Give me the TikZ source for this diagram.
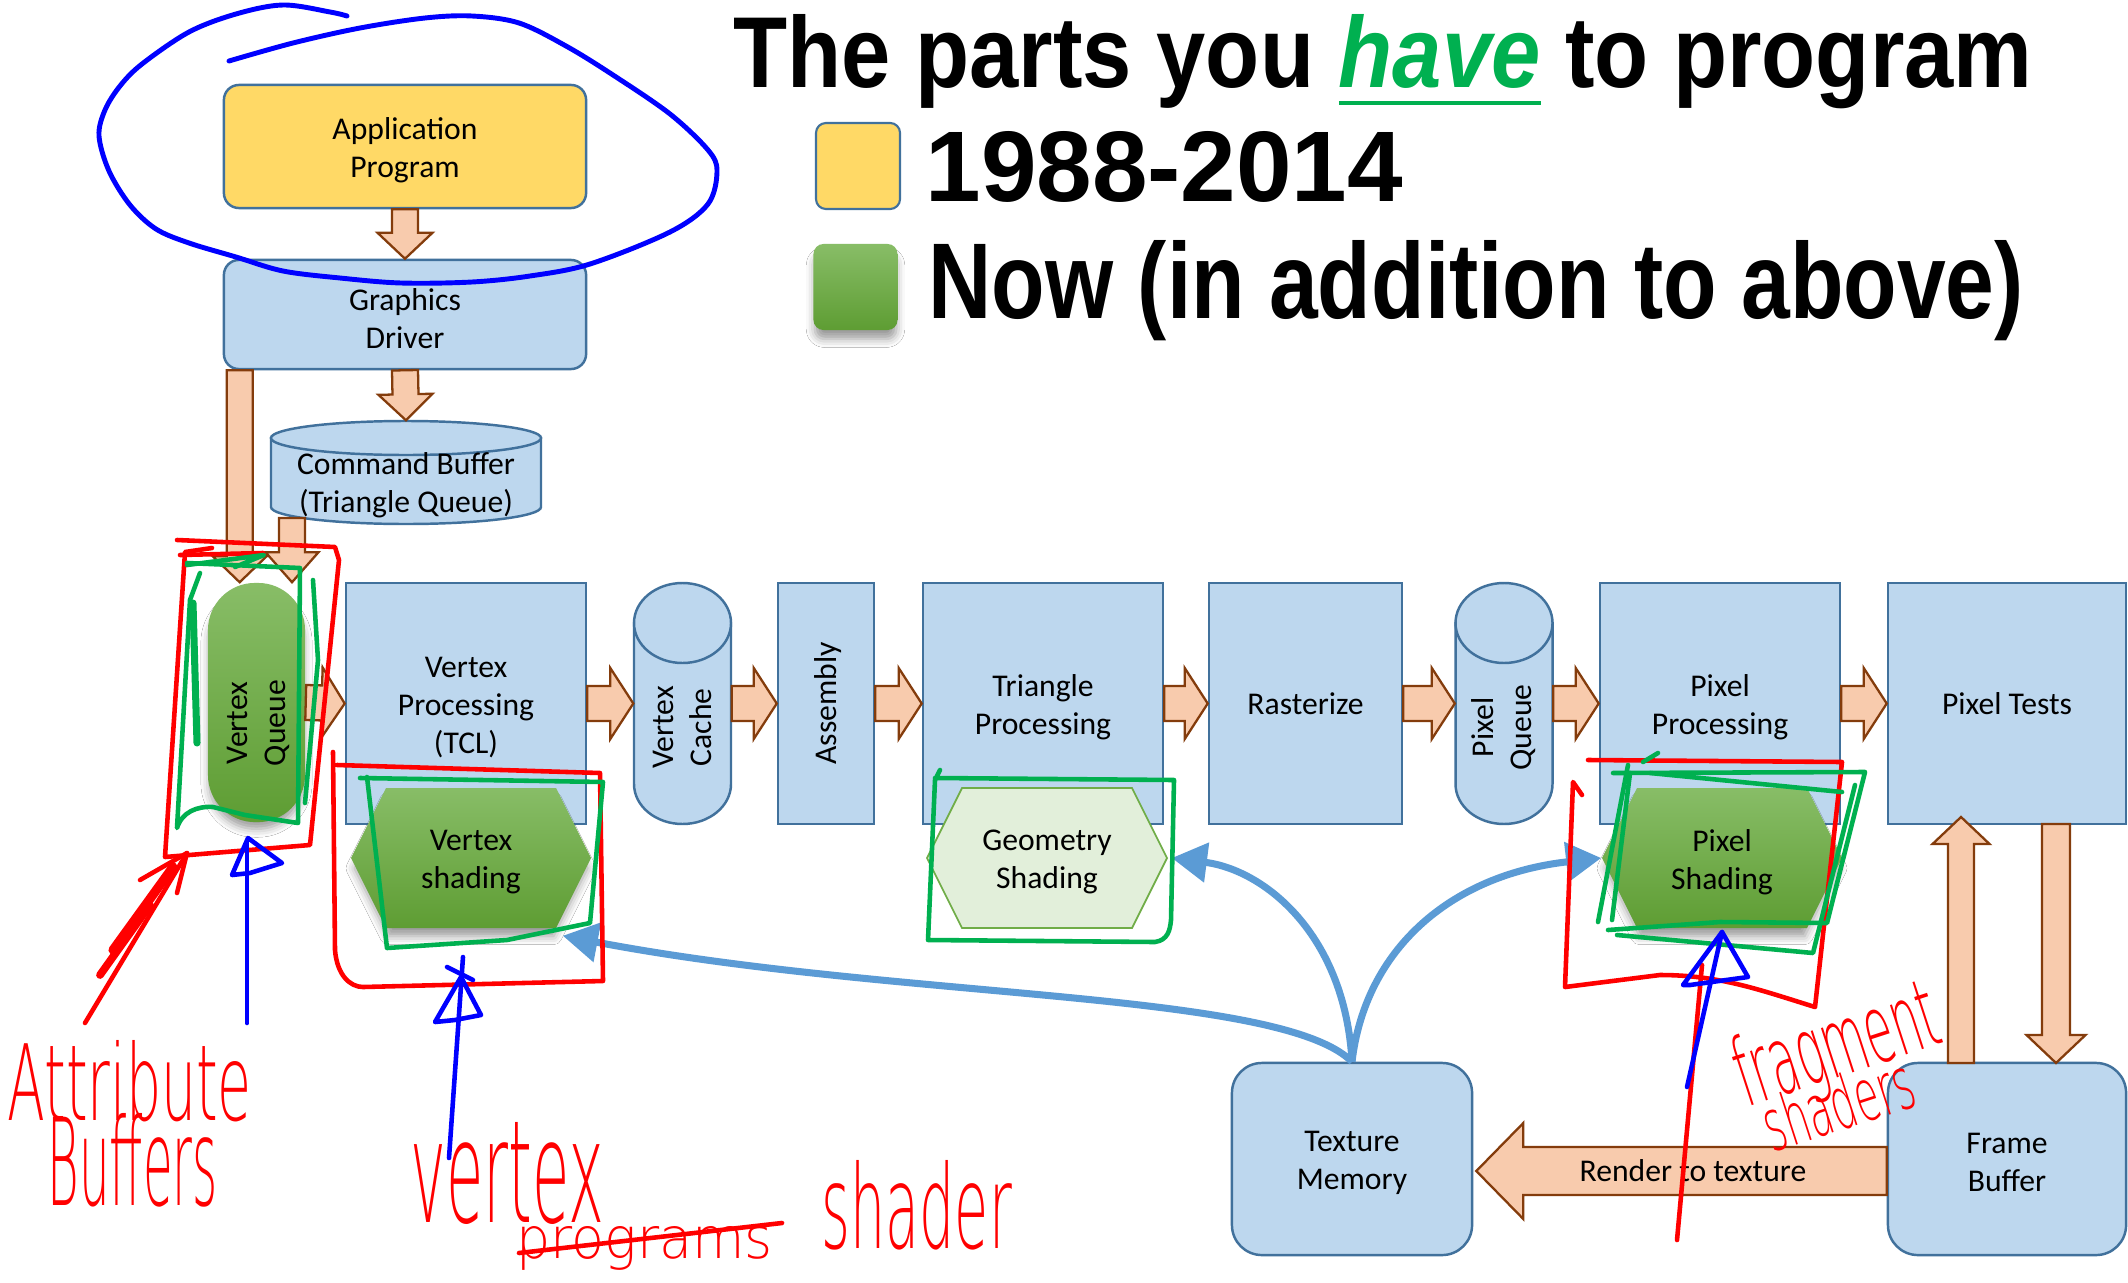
\documentclass[tikz,border=0pt]{standalone}
\usepackage{fontspec}
\setmainfont{Carlito}
\newfontfamily\titlefont{Liberation Sans}
\newfontfamily\handfont{DejaVu Sans ExtraLight}
\usetikzlibrary{calc,arrows.meta,shadows.blur}

\definecolor{boxfill}{HTML}{BDD7EE}
\definecolor{boxline}{HTML}{41719C}
\definecolor{appyellow}{HTML}{FFD966}
\definecolor{peach}{HTML}{F8CBAD}
\definecolor{arrowbrown}{HTML}{843C0C}
\definecolor{lgfill}{HTML}{E2EFDA}
\definecolor{lgline}{HTML}{70AD47}
\definecolor{gtop}{HTML}{88BD67}
\definecolor{gbot}{HTML}{5E9D33}
\definecolor{texblue}{HTML}{5B9BD5}
\definecolor{penred}{HTML}{FF0000}
\definecolor{pengreen}{HTML}{00B050}
\definecolor{penblue}{HTML}{0000FF}

\tikzset{
  boxtext/.style={font=\fontsize{9}{10.8}\selectfont, align=center, text=black},
  multitext/.style={boxtext, yshift=-1.1pt},
  stagebox/.style={draw=boxline, fill=boxfill, line width=0.7pt, inner sep=0pt},
  roundbox/.style={stagebox, rounded corners=0.15cm},
  cylstyle/.style={draw=boxline, fill=boxfill, line width=0.7pt},
  blockarrow/.style={draw=arrowbrown, fill=peach, line width=0.65pt, line join=miter},
  greenfill/.style={top color=gtop, bottom color=gbot, draw=none},
  gshadow/.style={blur shadow={shadow xshift=0pt, shadow yshift=-3pt, shadow scale=0.97, shadow blur radius=2.5pt, shadow opacity=40}},
  lightgreen/.style={fill=lgfill, draw=lgline, line width=0.5pt},
  texarrow/.style={draw=texblue, line width=2pt, -{Triangle[length=10pt,width=11pt]}},
  pen/.style={line width=1.3pt, line cap=round, line join=round},
  redpen/.style={pen, draw=penred},
  greenpen/.style={pen, draw=pengreen},
  bluepen/.style={pen, draw=penblue},
  hand/.style={inner sep=0pt, text=penred},
  legendtext/.style={inner sep=0pt, anchor=base west},
}

% hollow block arrow from #1 to #2: shaft half width, head half width, head length
\newcommand\blockarrow[5]{%
  \coordinate (ba-h) at ($(#2)!#5!(#1)$);
  \draw[blockarrow] ($(#1)!#3!90:(#2)$) -- ($(ba-h)!#3!90:(#2)$) -- ($(ba-h)!#4!90:(#2)$) -- (#2)
     -- ($(ba-h)!#4!-90:(#2)$) -- ($(ba-h)!#3!-90:(#2)$) -- ($(#1)!#3!-90:(#2)$) -- cycle;}
\newcommand\stagearrow[2]{\blockarrow{#1}{#2}{0.175cm}{0.355cm}{0.23cm}}

% upright cylinder: name, centre x, top, bottom, x radius, y radius, text, text rotation
\newcommand\vcyl[8]{%
  \path[cylstyle] (#2-#5,#3+#6) -- (#2-#5,#4-#6)
     arc[start angle=180,end angle=0,x radius=#5,y radius=#6] -- (#2+#5,#3+#6) -- cycle;
  \path[cylstyle] (#2,#3+#6) ellipse[x radius=#5,y radius=#6];
  \node[inner sep=0pt, minimum width={2*#5*0.01cm}, minimum height={(#4-#3)*0.01cm}] (#1) at (#2,{(#3+#4)/2}) {};
  \node[multitext, rotate=#8] at (#2,{(#3+#6+#4)/2}) {#7};}

% flat-topped hexagon: name, centre x, centre y, style, text
\newcommand\hexagon[5]{%
  \path[#4] (#2-120,#3) -- (#2-85,#3-70) -- (#2+85,#3-70) -- (#2+120,#3)
     -- (#2+85,#3+70) -- (#2-85,#3+70) -- cycle;
  \node[minimum width=2.4cm, minimum height=1.4cm, inner sep=0pt] (#1) at (#2,#3) {};
  \node[multitext] at (#1) {#5};}

\begin{document}
\begin{tikzpicture}[x=0.01cm,y=-0.01cm]
\useasboundingbox (0,0) rectangle (2128,1282);
\fill[white] (0,0) rectangle (2128,1282);
\clip (0,0) rectangle (2128,1282);

% ---------- heading and legend ----------
\node[legendtext] (title) at (733,88)
  {\resizebox{12.98cm}{0.73cm}{\titlefont\bfseries The parts you {\color{pengreen}\underline{\itshape have}} to program}};
\node[draw=boxline, fill=appyellow, line width=0.6pt, rounded corners=0.1cm,
      minimum width=0.84cm, minimum height=0.86cm, inner sep=0pt] (legy) at (858,166) {};
\node[greenfill, gshadow, rounded corners=0.1cm,
      minimum width=0.84cm, minimum height=0.86cm, inner sep=0pt] (legg) at (855.5,287) {};
\node[legendtext] (legyt) at (925,202) {\resizebox{4.77cm}{0.70cm}{\titlefont\bfseries 1988-2014}};
\node[legendtext] (leggt) at (928,318) {\resizebox{10.94cm}{0.78cm}{\titlefont\bfseries Now (in addition to above)}};

% ---------- host side ----------
\node[roundbox, fill=appyellow, minimum width=3.62cm, minimum height=1.23cm] (app) at (405,146.5) {};
\node[multitext] at (app) {Application\\Program};
\node[roundbox, minimum width=3.62cm, minimum height=1.09cm] (drv) at (405,314.5) {};
\node[multitext] at (drv) {Graphics\\Driver};
\vcyl{cmd}{406}{421}{524}{135}{17}{Command Buffer\\(Triangle Queue)}{0}

% ---------- pipeline stages ----------
\node[greenfill, gshadow, rounded corners=0.47cm, minimum width=0.97cm, minimum height=2.39cm, inner sep=0pt] (vq) at (256.5,702.5) {};
\node[boxtext, rotate=90] at (258,723) {Vertex\\Queue};
\node[stagebox, minimum width=2.40cm, minimum height=2.41cm] (vp) at (466,703.5) {};
\node[multitext] at (vp) {Vertex\\Processing\\(TCL)};
\vcyl{vc}{682.5}{583}{824}{48.5}{40}{Vertex\\Cache}{90}
\node[stagebox, minimum width=0.96cm, minimum height=2.41cm] (asm) at (826,703.5) {};
\node[boxtext, rotate=90] at (828,703.5) {Assembly};
\node[stagebox, minimum width=2.40cm, minimum height=2.41cm] (tp) at (1043,703.5) {};
\node[multitext] at (tp) {Triangle\\Processing};
\node[stagebox, boxtext, minimum width=1.93cm, minimum height=2.41cm] (ras) at (1305.5,703.5) {Rasterize};
\vcyl{pq}{1504}{583}{824}{48.5}{40}{Pixel\\Queue}{90}
\node[stagebox, minimum width=2.40cm, minimum height=2.41cm] (pp) at (1720,703.5) {};
\node[multitext] at (pp) {Pixel\\Processing};
\node[stagebox, boxtext, minimum width=2.38cm, minimum height=2.41cm] (pt) at (2007,703.5) {Pixel Tests};

\node[roundbox, rounded corners=0.3cm, minimum width=2.40cm, minimum height=1.92cm] (tm) at (1352,1159) {};
\node[multitext] at (tm) {Texture\\Memory};
\node[roundbox, rounded corners=0.3cm, minimum width=2.38cm, minimum height=1.92cm] (fb) at (2007,1159) {};
\node[multitext] at (fb) {Frame\\Buffer};

% programmable stages
\hexagon{vs}{471}{858}{greenfill, gshadow}{Vertex\\shading}
\hexagon{gs}{1047}{858}{lightgreen}{Geometry\\Shading}
\hexagon{ps}{1722}{858}{greenfill, gshadow}{Pixel\\Shading}

% ---------- data flow ----------
\blockarrow{app.south}{drv.north}{0.13cm}{0.275cm}{0.26cm}
\blockarrow{drv.south}{cmd.north}{0.13cm}{0.27cm}{0.26cm}
\coordinate (dq1) at ($(drv.south west)+(17,0)$);
\coordinate (dq2) at (dq1 |- vq.north);
\blockarrow{dq1}{dq2}{0.13cm}{0.27cm}{0.26cm}
\coordinate (cq1) at (292,518);
\coordinate (cq2) at (cq1 |- vq.north);
\blockarrow{cq1}{cq2}{0.13cm}{0.265cm}{0.30cm}

\stagearrow{vq.east}{vp.west}
\stagearrow{vp.east}{vc.west}
\stagearrow{vc.east}{asm.west}
\stagearrow{asm.east}{tp.west}
\stagearrow{tp.east}{ras.west}
\stagearrow{ras.east}{pq.west}
\stagearrow{pq.east}{pp.west}
\stagearrow{pp.east}{pt.west}

\coordinate (fbup) at (1961,1063);
\coordinate (ptin) at (1961,817);
\blockarrow{fbup}{ptin}{0.13cm}{0.285cm}{0.27cm}
\coordinate (ptout) at (2056,824);
\coordinate (fbin) at (2056,1063);
\blockarrow{ptout}{fbin}{0.14cm}{0.295cm}{0.28cm}
\coordinate (rt1) at ($(fb.west)+(0,12)$);
\coordinate (rt2) at ($(tm.east)+(3,12)$);
\blockarrow{rt1}{rt2}{0.24cm}{0.48cm}{0.47cm}
\node[boxtext] (rtt) at (1693,1171) {Render to texture};

\draw[texarrow] (tm.north) .. controls (1280,990) and (900,1000) .. ($(vs.south east)+(-29,7)$);
\draw[texarrow] (tm.north) .. controls (1345,935) and (1265,870) .. ($(gs.east)+(4,0)$);
\draw[texarrow] (tm.north) .. controls (1365,950) and (1450,875) .. (ps.west);

% ---------- pen annotations ----------
\draw[bluepen, line width=1.4pt] plot[smooth, tension=0.55] coordinates {
  (229,61) (293,43) (360,28) (425,18) (472,16) (519,23) (566,46) (613,75) (670,114)
  (708,150) (717,171) (708,204) (670,232) (590,264) (530,276) (472,282) (401,283)
  (340,278) (283,271) (236,257) (189,243) (156,229) (130,205) (109,171) (99,136)
  (105,110) (120,86) (142,64) (189,32) (236,14) (283,5) (330,12) (347,16)};

% vertex queue
\draw[redpen] (177,540) -- (335,547) -- (339,560) -- (310,845) -- (165,857) -- (185,552) -- (212,548);
\draw[redpen] (180,555) -- (263,553);
\draw[greenpen] (187,563) -- (300,568) -- (298,823) -- (245,815) -- (213,807)
   .. controls (197,806) and (182,812) .. (177,828) -- (190,600) -- (200,573);
\draw[greenpen] (187,565) -- (264,555) -- (235,567);
\draw[greenpen] (313,580) -- (318,660) -- (305,803);
\draw[greenpen, line width=2pt] (193,603) -- (197,743);
\draw[redpen] (85,1023) -- (187,853);
\draw[redpen] (140,880) -- (187,853) -- (177,893);
\draw[redpen, line width=2.6pt] (113,950) -- (173,867);
\draw[redpen, line width=2.2pt] (100,975) -- (150,905);
\draw[bluepen] (247,1023) -- (247,842);
\draw[bluepen] (250,873) -- (232,875) -- (248,838) -- (282,863) -- (250,873);
\node[hand, anchor=base west] (attr) at (7,1120) {\resizebox{2.44cm}{0.80cm}{\handfont Attribute}};
\node[hand, anchor=base west] (buff) at (47,1205) {\resizebox{1.70cm}{0.92cm}{\handfont Buffers}};

% vertex shading
\draw[redpen] (333,752) -- (335,950) .. controls (337,975) and (350,987) .. (363,987)
   -- (603,981) -- (600,773) -- (337,765);
\draw[greenpen] (360,778) -- (603,782) -- (590,923) -- (507,940) -- (387,948) -- (367,777);
\draw[bluepen] (449,1158) -- (463,957);
\draw[bluepen] (455,1020) -- (435,1022) -- (461,977) -- (481,1015) -- (455,1020);
\draw[bluepen] (447,967) -- (473,980);
\node[hand, anchor=base west] (vtx) at (410,1222) {\resizebox{1.94cm}{1.00cm}{\handfont vertex}};
\node[hand, anchor=base west] (prg) at (516,1258) {\resizebox{2.56cm}{0.32cm}{\handfont programs}};
\draw[redpen] (519,1253) -- (782,1223);
\node[hand, anchor=base west] (shd) at (821,1248) {\resizebox{1.90cm}{0.88cm}{\handfont shader}};

% geometry shading
\draw[greenpen] (940,770) -- (935,780) -- (928,940) -- (1155,942)
   .. controls (1168,940) and (1170,930) .. (1171,920) -- (1174,780) -- (935,778);

% pixel shading
\draw[redpen] (1588,760) -- (1842,762) -- (1815,1007)
   .. controls (1760,990) and (1720,975) .. (1660,975) -- (1565,987) -- (1573,782) -- (1582,795);
\draw[redpen] (1702,965) -- (1677,1240);
\draw[greenpen] (1613,773) -- (1865,772) -- (1827,923) -- (1720,922) -- (1608,930);
\draw[greenpen] (1650,773) -- (1842,792);
\draw[greenpen] (1598,922) -- (1628,765);
\draw[greenpen] (1612,920) -- (1630,773);
\draw[greenpen] (1643,762) -- (1658,753);
\draw[greenpen] (1855,785) -- (1813,953) -- (1617,935);
\draw[bluepen] (1687,1087) -- (1722,932);
\draw[bluepen] (1690,985) -- (1683,985) -- (1722,932) -- (1748,977) -- (1690,985);
\node[hand, rotate=18] (frag) at (1838,1050) {\resizebox{2.10cm}{0.72cm}{\handfont fragment}};
\node[hand, rotate=18] (shds) at (1838,1103) {\resizebox{1.55cm}{0.55cm}{\handfont shaders}};
\end{tikzpicture}
\end{document}
